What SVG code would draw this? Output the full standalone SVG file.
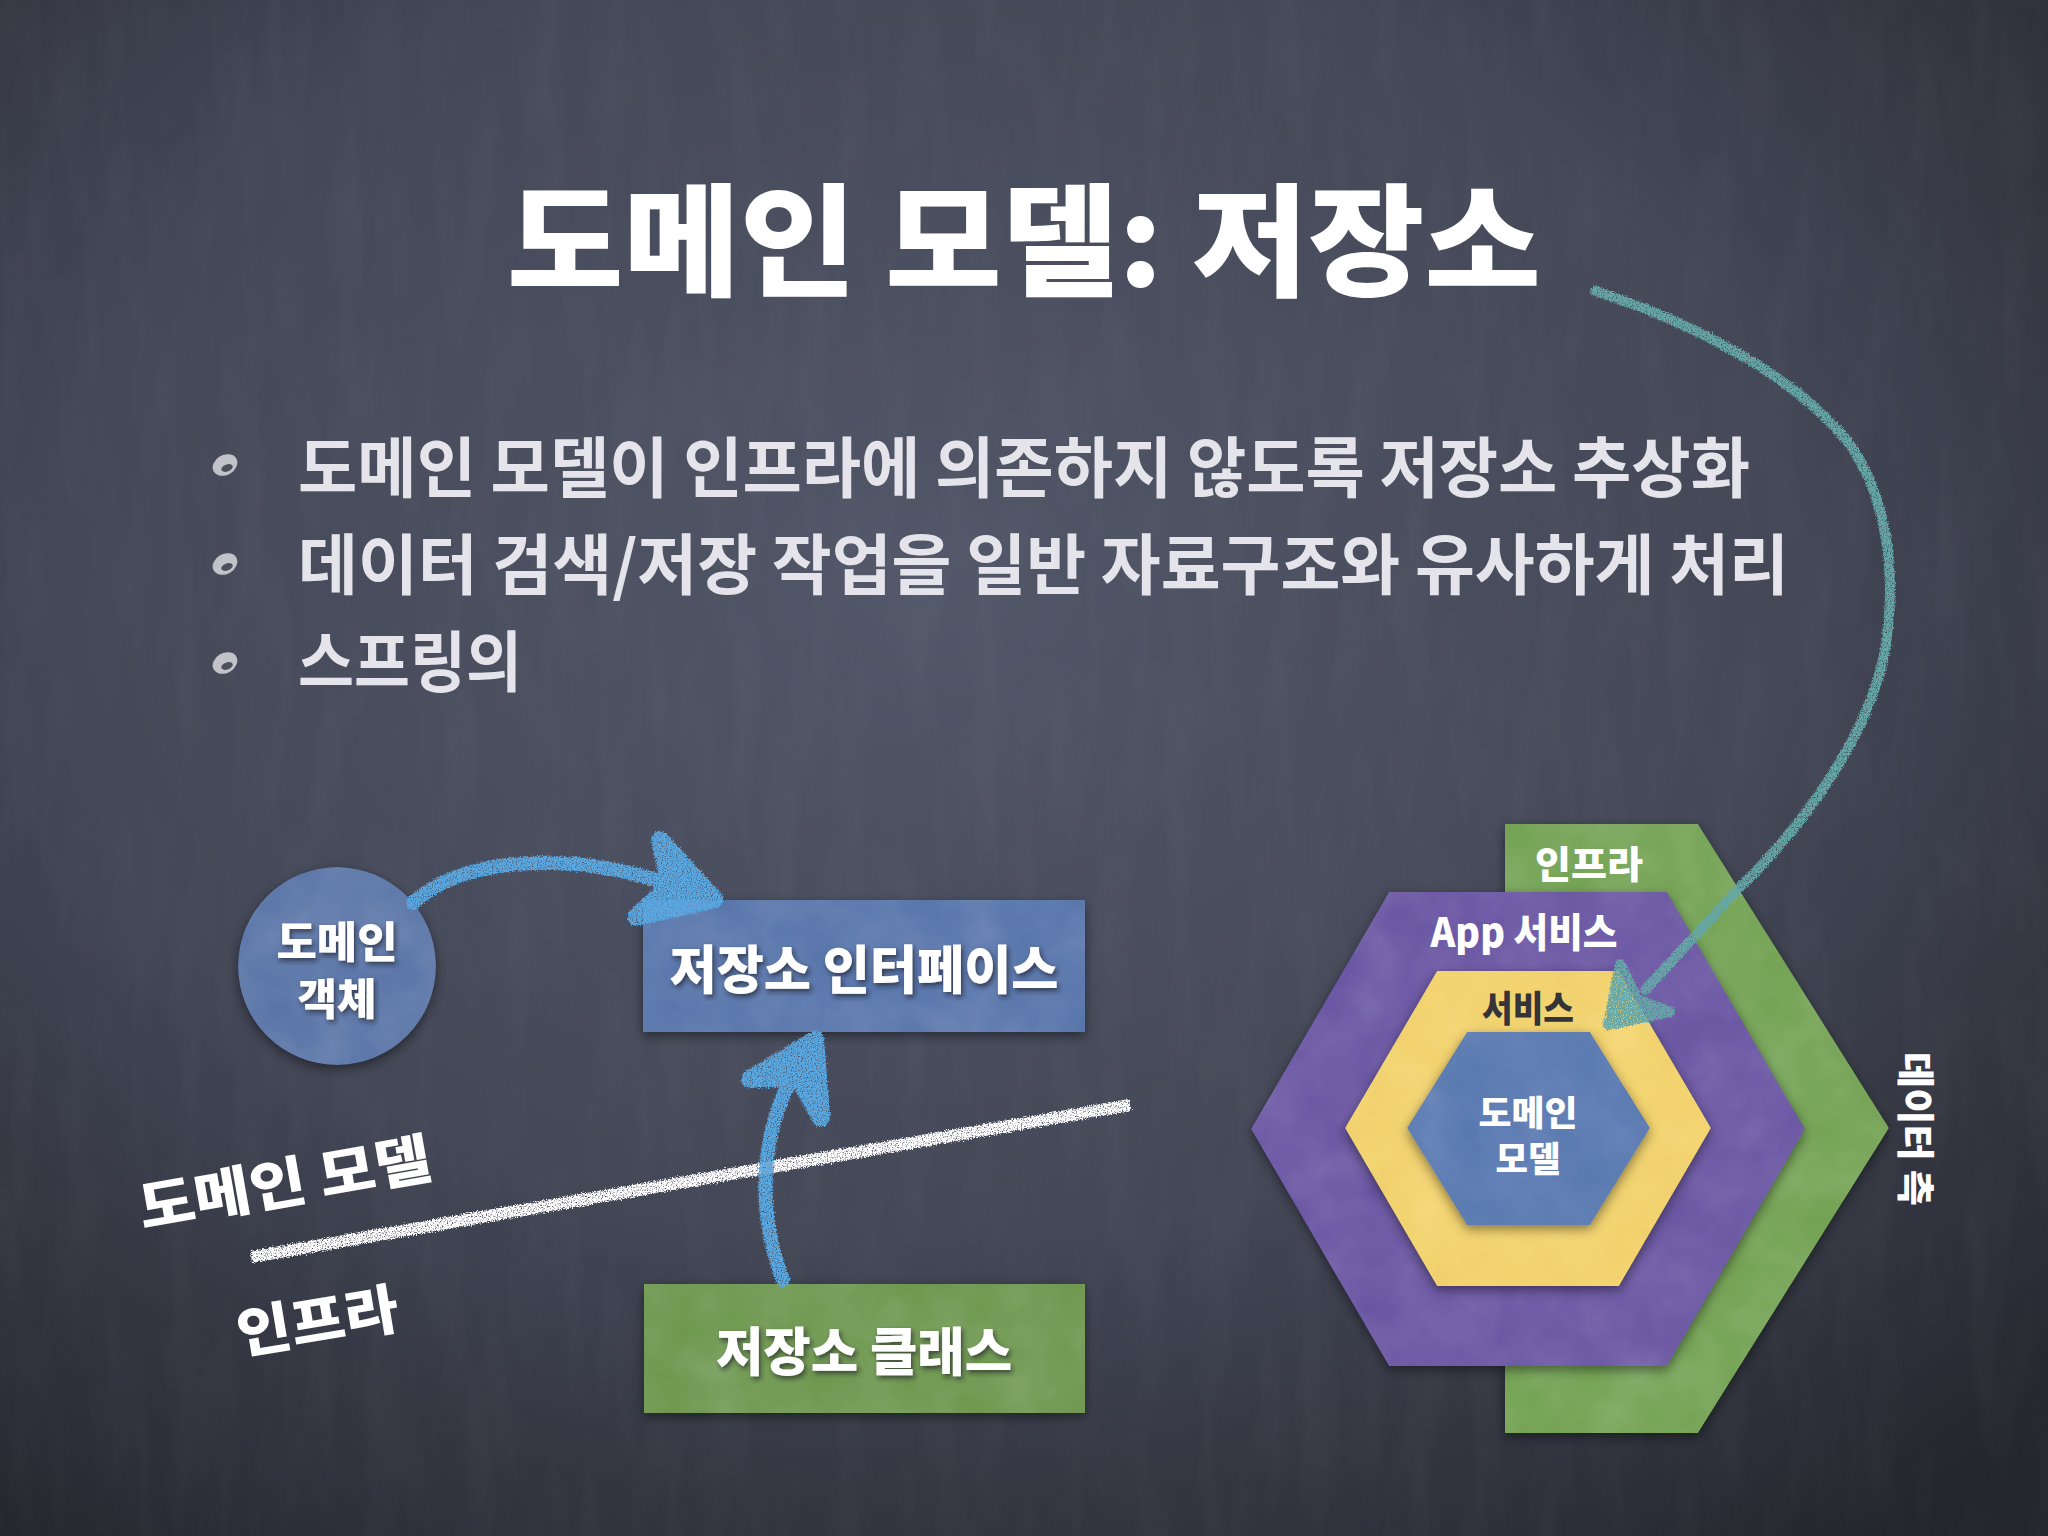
<svg xmlns="http://www.w3.org/2000/svg" width="2048" height="1536" viewBox="0 0 2048 1536">
  <defs>
    <radialGradient id="board" cx="45%" cy="38%" r="78%">
      <stop offset="0" stop-color="#525769"/>
      <stop offset="0.55" stop-color="#434756"/>
      <stop offset="1" stop-color="#24262d"/>
    </radialGradient>
    <filter id="grain" x="0" y="0" width="100%" height="100%">
      <feTurbulence type="fractalNoise" baseFrequency="0.03 0.006" numOctaves="3" seed="7" result="t"/>
      <feColorMatrix in="t" type="matrix" values="0 0 0 0 1  0 0 0 0 1  0 0 0 0 1  0.5 0 0 0 -0.2"/>
    </filter>
    <filter id="chalk" x="-10%" y="-10%" width="120%" height="120%">
      <feTurbulence type="fractalNoise" baseFrequency="0.8" numOctaves="2" seed="3" result="n"/>
      <feDisplacementMap in="SourceGraphic" in2="n" scale="6" xChannelSelector="R" yChannelSelector="G" result="rough"/>
      <feColorMatrix in="n" type="matrix" values="0 0 0 0 0  0 0 0 0 0  0 0 0 0 0  -3 0 0 0 2.5" result="mask"/>
      <feComposite in="rough" in2="mask" operator="in"/>
    </filter>
    <filter id="paper" x="-10%" y="-10%" width="120%" height="120%">
      <feTurbulence type="fractalNoise" baseFrequency="0.02" numOctaves="3" seed="5" result="t"/>
      <feColorMatrix in="t" type="saturate" values="0" result="g"/>
      <feComposite in="SourceGraphic" in2="g" operator="arithmetic" k1="0" k2="1" k3="0.12" k4="-0.06" result="p"/>
      <feComposite in="p" in2="SourceGraphic" operator="in" result="pp"/>
      <feDropShadow in="pp" dx="0" dy="4" stdDeviation="6" flood-color="#000" flood-opacity="0.45"/>
    </filter>
    <filter id="tshadow" x="-10%" y="-20%" width="120%" height="150%">
      <feDropShadow dx="2" dy="3" stdDeviation="2.5" flood-color="#1a1a22" flood-opacity="0.65"/>
    </filter>
    <style>
      .k { font-family: "Noto Sans CJK KR", "Noto Sans", sans-serif; font-weight: 700; }
      .heavy { font-weight: 900; }
      .title { fill: #ffffff; font-size: 122px; }
      .bullet { fill: #e4e4ea; font-size: 66px; }
      .lbl { fill: #ffffff; text-anchor: middle; dominant-baseline: central; }
      .shade { filter: url(#tshadow); }
      .bluechalk { fill: none; stroke: #5aa8e2; stroke-linecap: round; stroke-width: 14; }
      .bluehead { fill: #5aa8e2; stroke: #5aa8e2; stroke-width: 18; stroke-linejoin: round; stroke-linecap: round; }
      .tealchalk { fill: none; stroke: #65a6a6; stroke-linecap: round; stroke-width: 10; }
      .tealhead { fill: #65a6a6; stroke: #65a6a6; stroke-width: 10; stroke-linejoin: round; stroke-linecap: round; }
    </style>
  </defs>

  <!-- chalkboard -->
  <rect width="2048" height="1536" fill="url(#board)"/>
  <rect width="2048" height="1536" filter="url(#grain)" opacity="0.12"/>

  <!-- title -->
  <text class="k heavy title" x="1024" y="232" text-anchor="middle" dominant-baseline="central" textLength="1034" lengthAdjust="spacingAndGlyphs">도메인 모델: 저장소</text>

  <!-- bullets -->
  <g id="bullets">
    <g fill="#c2c3c9">
      <ellipse cx="225" cy="465" rx="13" ry="10" transform="rotate(-30 225 465)"/>
      <ellipse cx="225" cy="564" rx="13" ry="10" transform="rotate(-30 225 564)"/>
      <ellipse cx="225" cy="663" rx="13" ry="10" transform="rotate(-30 225 663)"/>
    </g>
    <g fill="#4c4f5c">
      <ellipse cx="227" cy="468" rx="6" ry="3.5" transform="rotate(-20 227 468)"/>
      <ellipse cx="227" cy="567" rx="6" ry="3.5" transform="rotate(-20 227 567)"/>
      <ellipse cx="227" cy="666" rx="6" ry="3.5" transform="rotate(-20 227 666)"/>
    </g>
    <text class="k bullet" x="298" y="463" dominant-baseline="central" textLength="1452" lengthAdjust="spacingAndGlyphs">도메인 모델이 인프라에 의존하지 않도록 저장소 추상화</text>
    <text class="k bullet" x="298" y="560" dominant-baseline="central" textLength="1491" lengthAdjust="spacingAndGlyphs">데이터 검색/저장 작업을 일반 자료구조와 유사하게 처리</text>
    <text class="k bullet" x="298" y="657" dominant-baseline="central" textLength="224" lengthAdjust="spacingAndGlyphs">스프링의</text>
  </g>

  <!-- left diagram nodes -->
  <g id="node-domain-object">
    <circle cx="337" cy="966" r="99" fill="#6d84b1" filter="url(#paper)"/>
    <text class="k heavy lbl shade" x="337" y="939" font-size="43" textLength="121" lengthAdjust="spacingAndGlyphs">도메인</text>
    <text class="k heavy lbl shade" x="337" y="996" font-size="43" textLength="79" lengthAdjust="spacingAndGlyphs">객체</text>
  </g>

  <g id="node-repo-interface">
    <rect x="643" y="900" width="442" height="132" fill="#6b84b4" filter="url(#paper)"/>
    <text class="k heavy lbl shade" x="864" y="966" font-size="52" textLength="389" lengthAdjust="spacingAndGlyphs">저장소 인터페이스</text>
  </g>

  <g id="node-repo-class">
    <rect x="644" y="1284" width="441" height="129" fill="#7ea364" filter="url(#paper)"/>
    <text class="k heavy lbl shade" x="864" y="1348" font-size="52" textLength="296" lengthAdjust="spacingAndGlyphs">저장소 클래스</text>
  </g>

  <!-- layer divider (chalk line) and layer labels -->
  <g id="layer-divider">
    <line x1="251" y1="1257" x2="1130" y2="1105" stroke="#ffffff" stroke-width="12" filter="url(#chalk)"/>
    <text class="k heavy lbl" x="284" y="1179" font-size="55" textLength="296" lengthAdjust="spacingAndGlyphs" transform="rotate(-10 284 1179)">도메인 모델</text>
    <text class="k heavy lbl" x="317" y="1317" font-size="55" textLength="163" lengthAdjust="spacingAndGlyphs" transform="rotate(-9.5 317 1317)">인프라</text>
  </g>

  <!-- hexagonal architecture -->
  <g id="node-hex-infra">
    <polygon points="1505,824 1698,824 1889,1128 1698,1433 1505,1433" fill="#83ad68" filter="url(#paper)"/>
    <text class="k heavy lbl" x="1589" y="861" font-size="38" textLength="108" lengthAdjust="spacingAndGlyphs">인프라</text>
  </g>
  <g id="node-hex-app">
    <polygon points="1389,892 1667,892 1805,1129 1667,1366 1389,1366 1251,1129" fill="#7a69ad" filter="url(#paper)"/>
    <text class="k heavy lbl" x="1524" y="930" font-size="40" textLength="187" lengthAdjust="spacingAndGlyphs">App 서비스</text>
  </g>
  <g id="node-hex-service">
    <polygon points="1437,971 1619,971 1711,1128 1619,1286 1437,1286 1345,1128" fill="#f6d87a" filter="url(#paper)"/>
    <text class="k heavy lbl" x="1528" y="1006" font-size="36" style="fill:#35343a" textLength="92" lengthAdjust="spacingAndGlyphs">서비스</text>
  </g>
  <g id="node-hex-domain">
    <polygon points="1467,1032 1590,1032 1650,1128 1590,1225 1467,1225 1407,1128" fill="#6a86b9" filter="url(#paper)"/>
    <text class="k heavy lbl" x="1528" y="1110" font-size="35" textLength="99" lengthAdjust="spacingAndGlyphs">도메인</text>
    <text class="k heavy lbl" x="1528" y="1156" font-size="35" textLength="65" lengthAdjust="spacingAndGlyphs">모델</text>
  </g>
  <g id="label-data-side">
    <text class="k heavy lbl" x="1918" y="1129" font-size="38" textLength="154" lengthAdjust="spacingAndGlyphs" transform="rotate(90 1918 1129)">데이터 측</text>
  </g>

  <!-- connectors -->
  <g id="connectors" filter="url(#chalk)">
    <g id="arrow-object-to-interface">
      <path class="bluechalk" d="M 413 903 C 455 862, 560 845, 680 888"/>
      <path class="bluehead" d="M 660 840 L 714 899 L 636 917 L 670 886 Z"/>
    </g>
    <g id="arrow-class-to-interface">
      <path class="bluechalk" d="M 783 1280 C 760 1222, 752 1130, 806 1056"/>
      <path class="bluehead" d="M 750 1079 L 815 1040 L 821 1118 L 798 1078 Z"/>
    </g>
    <g id="arrow-repo-to-service">
      <path class="tealchalk" d="M 1595 291 C 1700 325, 1800 380, 1850 445 C 1885 495, 1898 570, 1885 650 C 1870 730, 1810 820, 1737 890 L 1645 990"/>
      <path class="tealhead" d="M 1620 964 L 1608 1025 L 1670 1012 L 1637 999 Z"/>
    </g>
  </g>
</svg>
